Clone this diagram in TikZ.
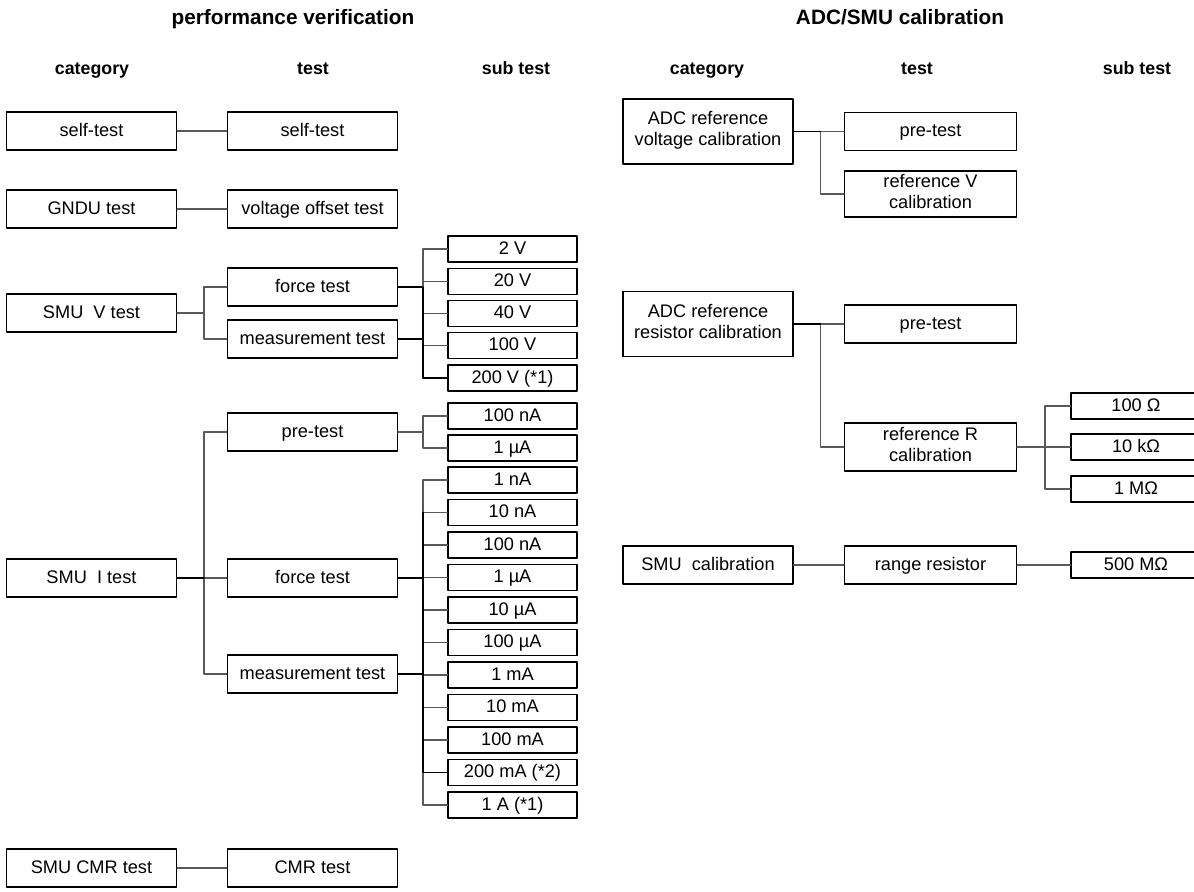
\documentclass[tikz,border=0pt]{standalone}
\usepackage{fontspec}
\setmainfont{Liberation Sans}
\newcommand\boxstrut{\rule[-2.8pt]{0pt}{10.8pt}}
\begin{document}
\begin{tikzpicture}[x=.5pt,y=-.5pt,line join=round,line cap=round,
	font=\fontsize{9.1}{10.5}\selectfont,
	box/.style={draw,line width=.55pt,inner sep=0pt,align=center,minimum height=19pt,
		execute at begin node=\boxstrut,execute at end node=\boxstrut},
	wbox/.style={box,minimum width=85pt},
	sbox/.style={box,minimum width=64.5pt,minimum height=13pt},
	head/.style={font=\fontsize{8.9}{10.5}\selectfont\bfseries,text height=1.6ex,text depth=.4ex},
	title/.style={font=\fontsize{10.4}{12}\selectfont\bfseries,text height=1.6ex,text depth=.4ex},
	conn/.style={line width=.6pt,black!65},
	trunk/.style={line width=.8pt,black}]
		\def\xa{91.5}
		\def\xb{312.5}
		\def\xc{512.5}
		\def\xd{708}
		\def\xe{930.5}
		\def\xf{1136}
		\useasboundingbox (0,0) rectangle (1194,891);
		\node[title] (pvtitle) at (293,18) {performance verification};
		\node[title] (caltitle) at (900,18) {ADC/SMU calibration};
		\node[head] (pvcat) at (92,68) {category};
		\node[head] (pvtst) at (313,68) {test};
		\node[head] (pvsub) at (516,68) {sub test};
		\node[head] (calcat) at (707,68) {category};
		\node[head] (caltst) at (917,68) {test};
		\node[head] (calsub) at (1137,68) {sub test};
		% performance verification
		\node[wbox] (selfcat) at (\xa,131) {self-test};
		\node[wbox] (selftst) at (\xb,131) {self-test};
		\node[wbox] (gnducat) at (\xa,209) {GNDU test};
		\node[wbox] (gndutst) at (\xb,209) {voltage offset test};
		\node[wbox] (svcat) at (\xa,313) {SMU\ \ V test};
		\node[wbox] (svforce) at (\xb,287) {force test};
		\node[wbox] (svmeas) at (\xb,339) {measurement test};
		\foreach \lbl [count=\i] in {2 V,20 V,40 V,100 V,200 V (*1)}
			\node[sbox] (sv\i) at (\xc,{249+32.25*(\i-1)}) {\lbl};
		\node[wbox] (sicat) at (\xa,578) {SMU\ \ I test};
		\node[wbox] (sipre) at (\xb,432) {pre-test};
		\node[wbox] (siforce) at (\xb,578) {force test};
		\node[wbox] (simeas) at (\xb,674) {measurement test};
		\node[sbox] (sip1) at (\xc,416) {100 nA};
		\node[sbox] (sip2) at (\xc,448) {1 µA};
		\foreach \lbl [count=\i] in {1 nA,10 nA,100 nA,1 µA,10 µA,100 µA,1 mA,10 mA,100 mA,200 mA (*2),1 A (*1)}
			\node[sbox] (si\i) at (\xc,{480+32.5*(\i-1)}) {\lbl};
		\node[wbox] (cmrcat) at (\xa,868) {SMU CMR test};
		\node[wbox] (cmrtst) at (\xb,868) {CMR test};
		% ADC/SMU calibration
		\node[wbox,minimum width=85pt,minimum height=32.5pt] (advcat) at (\xd,131.5) {ADC reference\\voltage calibration};
		\node[wbox,minimum width=86pt] (advpre) at (\xe,131.5) {pre-test};
		\node[wbox,minimum width=86pt,minimum height=23pt] (advref) at (\xe,194) {reference V\\calibration};
		\node[wbox,minimum width=85pt,minimum height=32.5pt] (arcat) at (\xd,324) {ADC reference\\resistor calibration};
		\node[wbox,minimum width=86pt] (arpre) at (\xe,324) {pre-test};
		\node[wbox,minimum width=86pt,minimum height=24pt] (arref) at (\xe,447) {reference R\\calibration};
		\node[sbox,minimum width=65pt] (ar1) at (\xf,406) {100 Ω};
		\node[sbox,minimum width=65pt] (ar2) at (\xf,447) {10 kΩ};
		\node[sbox,minimum width=65pt] (ar3) at (\xf,489) {1 MΩ};
		\node[wbox,minimum width=85pt] (smucat) at (\xd,565) {SMU\ \ calibration};
		\node[wbox,minimum width=86pt] (smurng) at (\xe,565) {range resistor};
		\node[sbox,minimum width=65pt] (smusub) at (\xf,565) {500 MΩ};
		% connectors
		\draw[conn] (selfcat) -- (selftst);
		\draw[conn] (gnducat) -- (gndutst);
		\draw[conn] (cmrcat) -- (cmrtst);
		\draw[conn] (smucat) -- (smurng);
		\draw[conn] (smurng) -- (smusub);
		\foreach \t in {svforce,svmeas}
			\draw[conn] (svcat.east) -- ++(27,0) |- (\t.west);
		\foreach \t in {sipre,siforce,simeas}
			\draw[conn] (sicat.east) -- ++(27,0) |- (\t.west);
		\foreach \t in {advpre,advref}
			\draw[conn] (advcat.east) -- ++(27,0) |- (\t.west);
		\foreach \t in {arpre,arref}
			\draw[conn] (arcat.east) -- ++(27,0) |- (\t.west);
		\draw[trunk] (advcat.east) -- ++(27,0);
		\draw[trunk] (arcat.east) -- ++(27,0);
		\draw[trunk] (sicat.east) -- ++(27,0);
		\draw[trunk] (svforce.east) -- ++(25,0) coordinate (svbus);
		\draw[trunk] (svmeas.east) -- (svmeas.east -| svbus);
		\foreach \i in {1,...,5}
			\draw[conn] (svbus) |- (sv\i.west);
		\draw[trunk] (svbus) -- (svbus |- sv5.west) -- (sv5.west);
		\draw[trunk] (sipre.east) -- ++(25,0);
		\foreach \i in {1,2}
			\draw[conn] (sipre.east) -- ++(25,0) |- (sip\i.west);
		\draw[trunk] (siforce.east) -- ++(25,0) coordinate (sibus);
		\draw[trunk] (simeas.east) -- (simeas.east -| sibus);
		\foreach \i in {1,...,11}
			\draw[conn] (sibus) |- (si\i.west);
		\draw[trunk] (sibus |- si2.west) -- (sibus |- si10.west) -- (si10.west);
		\draw[trunk] (arref.east) -- ++(28,0);
		\foreach \i in {1,2,3}
			\draw[conn] (arref.east) -- ++(28,0) |- (ar\i.west);
	\end{tikzpicture}
\end{document}
